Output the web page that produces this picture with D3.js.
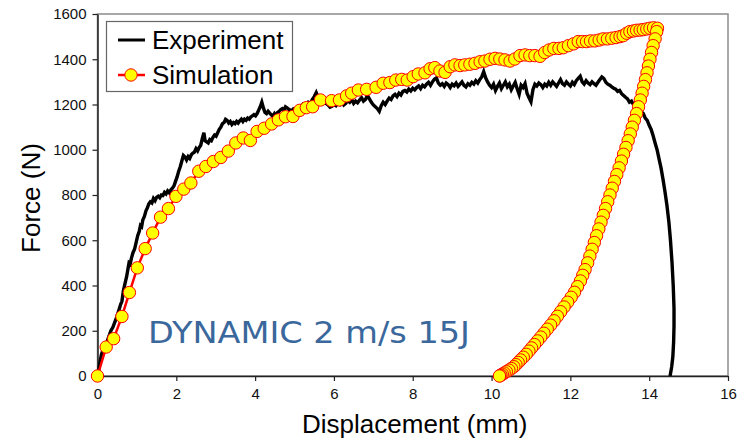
<!DOCTYPE html>
<html>
<head>
<meta charset="utf-8">
<script src="https://cdn.jsdelivr.net/npm/d3@7"></script>
<style>
  html, body { margin: 0; padding: 0; background: #fff; }
  svg { display: block; }
  text { font-family: "Liberation Sans", Arial, sans-serif; }
</style>
</head>
<body>
<svg id="chart" width="746" height="440"></svg>
<script>
// Tick values
const xTicks = [0, 2, 4, 6, 8, 10, 12, 14, 16];
const yTicks = [0, 200, 400, 600, 800, 1000, 1200, 1400, 1600];

// Measured force-displacement record (displacement mm, force N)
const experiment = [
  [0.00,0],[0.03,20],[0.06,60],[0.10,95],[0.14,115],[0.19,135],[0.24,150],[0.29,175],[0.34,200],[0.39,215],
  [0.44,238],[0.49,262],[0.54,290],[0.59,318],[0.62,330],[0.66,380],[0.70,410],[0.74,440],[0.77,470],[0.80,500],
  [0.83,495],[0.86,520],[0.90,545],[0.94,560],[0.98,590],[1.02,620],[1.06,640],[1.09,665],[1.12,660],[1.15,690],
  [1.19,705],[1.23,730],[1.27,745],[1.30,760],[1.34,770],[1.38,765],[1.42,785],[1.46,775],[1.50,790],[1.54,795],
  [1.58,788],[1.62,800],[1.66,798],[1.70,812],[1.74,805],[1.78,818],[1.82,810],[1.86,822],[1.90,830],[1.94,840],
  [1.98,860],[2.02,880],[2.06,905],[2.10,925],[2.14,950],[2.18,975],[2.22,968],[2.26,955],[2.30,970],[2.34,962],
  [2.38,978],[2.42,985],[2.46,990],[2.50,1005],[2.54,995],[2.58,1010],[2.62,1020],[2.66,1050],[2.70,1075],[2.73,1040],
  [2.77,1035],[2.81,1030],[2.85,1045],[2.89,1040],[2.93,1055],[2.97,1065],[3.01,1060],[3.05,1075],[3.09,1090],[3.13,1100],
  [3.17,1115],[3.21,1120],[3.25,1135],[3.29,1130],[3.33,1118],[3.37,1125],[3.41,1112],[3.45,1120],[3.49,1115],[3.53,1125],
  [3.57,1118],[3.61,1128],[3.65,1135],[3.69,1125],[3.73,1135],[3.77,1130],[3.81,1140],[3.85,1135],[3.89,1145],[3.93,1150],
  [3.97,1155],[4.01,1150],[4.05,1160],[4.09,1175],[4.13,1190],[4.17,1210],[4.21,1185],[4.25,1165],[4.29,1160],[4.33,1170],
  [4.37,1162],[4.41,1155],[4.45,1148],[4.49,1160],[4.53,1150],[4.57,1165],[4.61,1170],[4.65,1178],[4.69,1182],[4.73,1175],
  [4.77,1190],[4.81,1185],[4.85,1180],[4.89,1175],[4.93,1172],[4.97,1180],[5.01,1176],[5.05,1185],[5.10,1178],[5.15,1192],
  [5.20,1200],[5.25,1188],[5.30,1196],[5.35,1210],[5.40,1205],[5.45,1222],[5.50,1235],[5.55,1252],[5.60,1230],[5.65,1215],
  [5.70,1225],[5.75,1212],[5.80,1205],[5.85,1198],[5.90,1188],[5.95,1192],[6.00,1200],[6.05,1195],[6.10,1208],[6.15,1200],
  [6.20,1212],[6.25,1198],[6.30,1205],[6.35,1218],[6.40,1210],[6.45,1222],[6.50,1205],[6.55,1215],[6.60,1208],[6.65,1220],
  [6.70,1230],[6.75,1215],[6.80,1222],[6.85,1240],[6.90,1225],[6.95,1210],[7.00,1198],[7.05,1190],[7.10,1182],[7.15,1170],
  [7.20,1195],[7.25,1210],[7.30,1200],[7.35,1215],[7.40,1228],[7.45,1222],[7.50,1238],[7.55,1245],[7.60,1235],[7.65,1250],
  [7.70,1242],[7.75,1258],[7.80,1262],[7.85,1255],[7.90,1268],[7.95,1260],[8.00,1272],[8.05,1265],[8.10,1275],[8.15,1282],
  [8.20,1270],[8.25,1285],[8.30,1278],[8.35,1290],[8.40,1298],[8.45,1285],[8.50,1300],[8.55,1312],[8.60,1318],[8.65,1295],
  [8.70,1285],[8.75,1292],[8.80,1280],[8.85,1295],[8.90,1288],[8.95,1275],[9.00,1290],[9.05,1283],[9.10,1295],[9.15,1280],
  [9.20,1290],[9.25,1300],[9.30,1285],[9.35,1278],[9.40,1292],[9.45,1285],[9.50,1298],[9.55,1290],[9.60,1305],[9.65,1295],
  [9.70,1310],[9.75,1322],[9.80,1345],[9.85,1318],[9.90,1300],[9.95,1285],[10.00,1275],[10.05,1290],[10.10,1262],[10.15,1280],
  [10.20,1295],[10.25,1270],[10.30,1285],[10.35,1300],[10.40,1278],[10.45,1290],[10.50,1265],[10.55,1282],[10.60,1298],[10.65,1270],
  [10.70,1245],[10.75,1285],[10.80,1275],[10.85,1292],[10.90,1250],[10.95,1230],[11.00,1212],[11.05,1265],[11.10,1290],[11.15,1282],
  [11.20,1295],[11.25,1288],[11.30,1275],[11.35,1290],[11.40,1282],[11.45,1298],[11.50,1285],[11.55,1300],[11.60,1290],[11.65,1280],
  [11.70,1295],[11.75,1310],[11.80,1292],[11.85,1285],[11.90,1300],[11.95,1290],[12.00,1282],[12.05,1298],[12.10,1288],[12.15,1305],
  [12.20,1315],[12.25,1325],[12.30,1300],[12.35,1290],[12.40,1305],[12.45,1295],[12.50,1288],[12.55,1300],[12.60,1292],[12.65,1285],
  [12.70,1298],[12.75,1310],[12.80,1322],[12.85,1315],[12.90,1298],[12.95,1290],[13.00,1285],[13.05,1278],[13.10,1272],[13.15,1268],
  [13.20,1258],[13.25,1262],[13.30,1248],[13.35,1240],[13.40,1232],[13.45,1225],[13.50,1210],[13.55,1215],[13.60,1200],[13.65,1192],
  [13.70,1182],[13.75,1178],[13.80,1168],[13.85,1160],[13.90,1140],[13.95,1130],[14.00,1108],[14.05,1090],[14.10,1062],[14.15,1030],
  [14.20,1000],[14.25,960],[14.30,920],[14.35,870],[14.40,815],[14.45,755],[14.50,680],[14.54,600],[14.58,500],[14.61,400],
  [14.63,300],[14.63,220],[14.62,150],[14.60,85],[14.57,40],[14.53,0]
];

// Finite-element result: loading branch
const simLoading = [
  [0,0],[0.22,128],[0.41,165],[0.62,263],[0.81,369],[1.01,478],[1.21,563],[1.40,632],[1.60,702],[1.80,740],
  [1.99,794],[2.19,826],[2.37,853],[2.57,905],[2.75,926],[2.94,948],[3.13,966],[3.32,994],[3.51,1030],[3.70,1052],
  [3.88,1041],[4.05,1081],[4.23,1095],[4.42,1114],[4.59,1132],[4.77,1146],[4.96,1147],[5.13,1174],[5.30,1186],[5.46,1190],
  [5.66,1220],[5.94,1217],[6.14,1220],[6.32,1238],[6.45,1250],[6.62,1264],[6.83,1267],[7.07,1276],[7.25,1294],[7.42,1297],
  [7.57,1308],[7.72,1311],[7.86,1308],[8.01,1323],[8.14,1335],[8.31,1340],[8.44,1358],[8.56,1363],[8.69,1348],[8.82,1342],
  [8.95,1367],[9.07,1375],[9.20,1372],[9.32,1375],[9.45,1378],[9.58,1382],[9.71,1389],[9.83,1392],[9.96,1400],[10.09,1404],
  [10.21,1401],[10.34,1397],[10.47,1392],[10.59,1401],[10.72,1416],[10.85,1419],[10.97,1416],[11.10,1416],[11.23,1413],[11.35,1430],
  [11.46,1441],[11.58,1448],[11.71,1448],[11.82,1451],[11.95,1460],[12.08,1468],[12.20,1478],[12.31,1478],[12.41,1478],[12.51,1481],
  [12.62,1481],[12.73,1485],[12.83,1490],[12.94,1490],[13.05,1493],[13.16,1496],[13.26,1500],[13.34,1504],[13.43,1515],[13.51,1522],
  [13.60,1525],[13.68,1528],[13.77,1529],[13.85,1531],[13.94,1534],[14.02,1537],[14.11,1539],[14.21,1537]
];

// Finite-element result: unloading branch
const simUnloading = [
  [14.19,1522],[14.15,1490],[14.10,1460],[14.06,1430],[14.02,1400],[13.98,1370],[13.945,1340],[13.905,1310],[13.86,1280],[13.82,1250],
  [13.775,1220],[13.73,1190],[13.68,1160],[13.625,1130],[13.57,1100],[13.52,1070],[13.466,1040],[13.41,1010],[13.35,980],[13.295,950],
  [13.237,920],[13.178,890],[13.119,860],[13.062,830],[13.005,800],[12.948,770],[12.892,740],[12.835,710],[12.778,680],[12.722,650],
  [12.665,620],[12.608,590],[12.552,560],[12.495,530],[12.439,500],[12.373,470],[12.314,445],[12.255,420],[12.18,395],[12.104,370],
  [12.02,348],[11.93,326],[11.84,305],[11.753,284],[11.67,264],[11.587,244],[11.499,225],[11.414,207],[11.329,189],[11.249,172],
  [11.167,155],[11.089,139],[11.016,124],[10.948,110],[10.879,96],[10.805,83],[10.737,71],[10.675,60],[10.618,50],[10.567,41],
  [10.504,33],[10.44,26],[10.375,19],[10.32,13],[10.274,8],[10.237,4],[10.209,1],[10.20,0]
];

const simulation = simLoading.concat(simUnloading);

const svg = d3.select("#chart");
const plot = { left: 97.5, right: 728, top: 14, bottom: 376 };

const x = d3.scaleLinear().domain([0, 16]).range([plot.left, plot.right]);
const y = d3.scaleLinear().domain([0, 1600]).range([plot.bottom, plot.top]);

// Plot frame: light top/right border
svg.append("rect")
  .attr("x", plot.left).attr("y", plot.top)
  .attr("width", plot.right - plot.left).attr("height", plot.bottom - plot.top)
  .attr("fill", "none").attr("stroke", "#8c8c8c").attr("stroke-width", 1.5);

// Axes
const xAxis = svg.append("g")
  .attr("transform", `translate(0,${plot.bottom})`)
  .call(d3.axisBottom(x).tickValues(xTicks).tickFormat(d3.format("d"))
    .tickSize(5).tickSizeOuter(0).tickPadding(7));
const yAxis = svg.append("g")
  .attr("transform", `translate(${plot.left},0)`)
  .call(d3.axisLeft(y).tickValues(yTicks).tickFormat(d3.format("d"))
    .tickSize(5).tickSizeOuter(0).tickPadding(6));

[xAxis, yAxis].forEach(g => {
  g.select(".domain").attr("stroke", "#222").attr("stroke-width", 1.5);
  g.selectAll(".tick line").attr("stroke", "#222").attr("stroke-width", 1.2);
  g.selectAll(".tick text")
    .attr("fill", "#111")
    .style("font-family", '"Liberation Sans", Arial, sans-serif')
    .style("font-size", "15px");
});

// Axis titles
svg.append("text")
  .attr("x", (plot.left + plot.right) / 2 + 2).attr("y", 433)
  .attr("text-anchor", "middle")
  .style("font-size", "26px").attr("fill", "#000")
  .text("Displacement (mm)");

svg.append("text")
  .attr("transform", "translate(40,198) rotate(-90)")
  .attr("text-anchor", "middle")
  .style("font-size", "26px").attr("fill", "#000")
  .text("Force (N)");

// Experiment curve
const line = d3.line().x(d => x(d[0])).y(d => y(d[1]));
svg.append("path")
  .datum(experiment)
  .attr("d", line)
  .attr("fill", "none").attr("stroke", "#000")
  .attr("stroke-width", 3.4).attr("stroke-linejoin", "miter");

// Simulation curve with markers
svg.append("path")
  .datum(simulation)
  .attr("d", line)
  .attr("fill", "none").attr("stroke", "#ff0000")
  .attr("stroke-width", 2.5).attr("stroke-linejoin", "round");

svg.append("g").selectAll("circle")
  .data(simulation)
  .join("circle")
  .attr("cx", d => x(d[0])).attr("cy", d => y(d[1]))
  .attr("r", 6.2)
  .attr("fill", "#ffff00").attr("stroke", "#ff0000").attr("stroke-width", 1);

// Annotation
svg.append("text")
  .attr("x", 148).attr("y", 343)
  .style("font-family", '"DejaVu Sans", Verdana, sans-serif')
  .style("font-size", "31px")
  .attr("fill", "#3a689c")
  .attr("textLength", 322).attr("lengthAdjust", "spacingAndGlyphs")
  .text("DYNAMIC 2 m/s 15J");

// Legend
const legend = svg.append("g");
legend.append("rect")
  .attr("x", 106.5).attr("y", 21.5).attr("width", 186).attr("height", 70)
  .attr("fill", "#fff").attr("stroke", "#666").attr("stroke-width", 1.2);
legend.append("line")
  .attr("x1", 118).attr("x2", 145).attr("y1", 40).attr("y2", 40)
  .attr("stroke", "#000").attr("stroke-width", 3);
legend.append("text")
  .attr("x", 152).attr("y", 49)
  .style("font-size", "26px").attr("fill", "#000")
  .text("Experiment");
legend.append("line")
  .attr("x1", 118).attr("x2", 145).attr("y1", 75).attr("y2", 75)
  .attr("stroke", "#ff0000").attr("stroke-width", 2.5);
legend.append("circle")
  .attr("cx", 131).attr("cy", 75).attr("r", 6.2)
  .attr("fill", "#ffff00").attr("stroke", "#ff0000").attr("stroke-width", 1);
legend.append("text")
  .attr("x", 152).attr("y", 84)
  .style("font-size", "26px").attr("fill", "#000")
  .text("Simulation");
</script>
</body>
</html>
